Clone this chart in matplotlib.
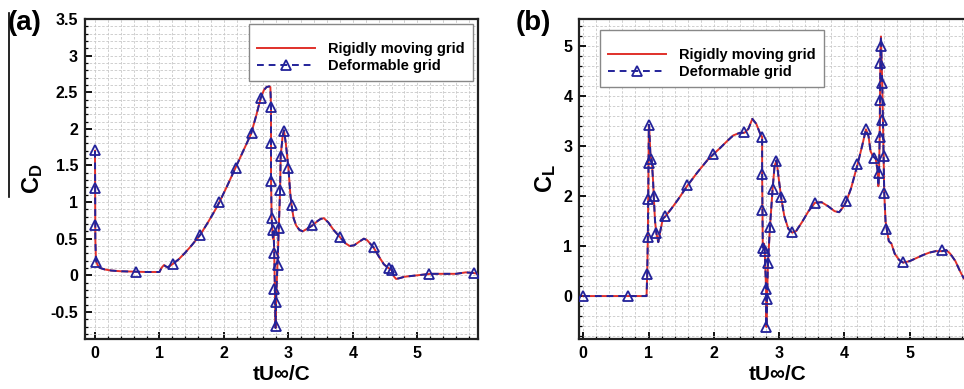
import matplotlib
matplotlib.use('Agg')
import matplotlib.pyplot as plt
from matplotlib.lines import Line2D
from matplotlib.ticker import MultipleLocator, FormatStrFormatter

plt.rcParams['font.family'] = ['Liberation Sans', 'DejaVu Sans']
plt.rcParams['font.weight'] = 'bold'
plt.rcParams['mathtext.fontset'] = 'custom'
plt.rcParams['mathtext.rm'] = 'Liberation Sans'
plt.rcParams['mathtext.bf'] = 'Liberation Sans:bold'

# ---- (a) drag coefficient ----
t_cd = [0.0, 0.005, 0.015, 0.04, 0.08, 0.15, 0.25, 0.4, 0.6, 0.8, 1.0, 1.03, 1.07, 1.1, 1.13,
        1.2, 1.3, 1.4, 1.5, 1.63, 1.75, 1.85, 1.93, 2.05, 2.18, 2.3, 2.42, 2.5, 2.57, 2.62,
        2.66, 2.7, 2.72, 2.73, 2.73, 2.74, 2.76, 2.77, 2.78, 2.79, 2.8, 2.81, 2.83, 2.85,
        2.87, 2.88, 2.91, 2.93, 2.96, 3.0, 3.03, 3.05, 3.08, 3.12, 3.17, 3.22, 3.3, 3.37,
        3.45, 3.5, 3.55, 3.62, 3.7, 3.8, 3.88, 3.95, 4.02, 4.1, 4.17, 4.22, 4.28, 4.32, 4.4,
        4.48, 4.55, 4.6, 4.64, 4.67, 4.72, 4.8, 5.0, 5.2, 5.4, 5.6, 5.75, 5.88, 5.94]
cd = [1.7, 0.5, 0.2, 0.14, 0.1, 0.08, 0.065, 0.055, 0.05, 0.045, 0.045, 0.1, 0.14, 0.12, 0.11,
      0.15, 0.22, 0.31, 0.41, 0.55, 0.72, 0.87, 1.0, 1.22, 1.47, 1.7, 1.93, 2.18, 2.42, 2.53,
      2.57, 2.58, 2.57, 2.3, 1.3, 0.78, 0.5, 0.6, 0.3, -0.2, -0.72, -0.3, 0.14, 0.64,
      1.15, 1.63, 1.9, 1.98, 1.8, 1.46, 1.1, 0.95, 0.78, 0.68, 0.62, 0.6, 0.64, 0.68,
      0.74, 0.77, 0.78, 0.72, 0.62, 0.52, 0.44, 0.4, 0.41, 0.46, 0.5, 0.48, 0.42, 0.38, 0.26,
      0.15, 0.1, 0.07, -0.02, -0.05, -0.04, -0.02, 0.0, 0.02, 0.02, 0.02, 0.04, 0.03, 0.02]
t_cd_mk = [0.0, 0.0, 0.0, 0.02, 0.64, 1.21, 1.63, 1.93, 2.18, 2.43, 2.57, 2.73, 2.73, 2.73,
           2.74, 2.76, 2.77, 2.78, 2.8, 2.8, 2.84, 2.86, 2.87, 2.88, 2.93, 3.0, 3.05, 3.36,
           3.8, 4.32, 4.56, 4.6, 5.18, 5.88]
cd_mk = [1.71, 1.19, 0.68, 0.18, 0.05, 0.15, 0.55, 1.0, 1.47, 1.94, 2.42, 2.3, 1.8, 1.29,
         0.78, 0.62, 0.31, -0.19, -0.36, -0.69, 0.14, 0.64, 1.16, 1.63, 1.97, 1.46, 0.96, 0.68,
         0.52, 0.38, 0.1, 0.07, 0.02, 0.03]

# ---- (b) lift coefficient ----
t_cl = [0.0, 0.3, 0.7, 0.97, 0.98, 0.99, 0.995, 1.0, 1.005, 1.01, 1.03, 1.05, 1.07, 1.08,
        1.1, 1.12, 1.15, 1.18, 1.22, 1.26, 1.35, 1.45, 1.6, 1.75, 1.9, 2.0, 2.1, 2.2, 2.3,
        2.4, 2.47, 2.53, 2.59, 2.65, 2.72, 2.74, 2.74, 2.745, 2.75, 2.77, 2.78, 2.8, 2.805,
        2.815, 2.83, 2.86, 2.9, 2.93, 2.96, 2.99, 3.03, 3.08, 3.14, 3.2, 3.26, 3.35, 3.45,
        3.55, 3.65, 3.75, 3.85, 3.92, 3.98, 4.03, 4.1, 4.2, 4.27, 4.33, 4.37, 4.4, 4.44, 4.48,
        4.51, 4.52, 4.53, 4.54, 4.545, 4.55, 4.555, 4.56, 4.57, 4.58, 4.59, 4.6, 4.61, 4.63,
        4.65, 4.68, 4.72, 4.77, 4.84, 4.9, 5.0, 5.1, 5.2, 5.3, 5.4, 5.5, 5.56, 5.62, 5.7,
        5.77, 5.83]
cl = [0.0, 0.0, 0.0, 0.0, 0.45, 1.2, 1.94, 2.66, 3.43, 3.4, 2.8, 2.72, 2.3, 2.0,
      1.5, 1.26, 1.08, 1.3, 1.55, 1.6, 1.75, 1.93, 2.22, 2.48, 2.72, 2.85, 2.97, 3.1, 3.22,
      3.27, 3.27, 3.35, 3.55, 3.45, 3.22, 3.19, 2.45, 1.72, 0.97, 1.05, 0.9, 0.15, -0.62,
      -0.05, 0.67, 1.39, 2.14, 2.6, 2.72, 2.4, 1.98, 1.6, 1.35, 1.27, 1.3, 1.48, 1.7,
      1.87, 1.88, 1.8, 1.7, 1.68, 1.78, 1.9, 2.15, 2.63, 3.0, 3.34, 3.2, 2.9, 2.8, 2.75,
      2.5, 2.2, 2.45, 3.18, 3.92, 4.65, 5.0, 5.2, 4.7, 4.25, 3.52, 2.8, 2.07, 1.5,
      1.33, 1.1, 1.05, 0.85, 0.72, 0.67, 0.7, 0.76, 0.82, 0.87, 0.9, 0.9, 0.92, 0.85, 0.7,
      0.5, 0.35]
t_cl_mk = [0.0, 0.69, 0.98, 0.99, 0.995, 1.0, 1.005, 1.04, 1.08, 1.11, 1.25, 1.59, 1.98,
           2.46, 2.74, 2.74, 2.745, 2.75, 2.78, 2.8, 2.815, 2.805, 2.83, 2.86, 2.9, 2.96,
           3.03, 3.2, 3.55, 4.03, 4.2, 4.33, 4.46, 4.53, 4.54, 4.545, 4.55, 4.555, 4.57,
           4.58, 4.6, 4.61, 4.64, 4.9, 5.5]
cl_mk = [0.0, 0.0, 0.44, 1.19, 1.94, 2.66, 3.43, 2.74, 2.01, 1.27, 1.61, 2.22, 2.84,
         3.28, 3.19, 2.45, 1.72, 0.97, 0.9, 0.15, -0.05, -0.62, 0.67, 1.39, 2.14, 2.7,
         1.99, 1.28, 1.87, 1.9, 2.64, 3.34, 2.76, 2.46, 3.19, 3.93, 4.66, 5.0, 4.26,
         3.53, 2.81, 2.07, 1.34, 0.675, 0.92]
x_ticks = [0, 1, 2, 3, 4, 5]

red = '#e0302a'
blue = '#22229a'

fig = plt.figure(figsize=(9.64, 3.89), dpi=100)
ax_a = fig.add_axes([85 / 964, 1 - 339 / 389, 393 / 964, 320 / 389])
ax_b = fig.add_axes([579.3 / 964, 1 - 339 / 389, 395.7 / 964, 320 / 389])


def draw(ax, t, y, tm, ym, ylab, ymaj, ymin, xlim, ylim, leg_loc, leg_anchor):
    ax.plot(t, y, color=red, lw=1.4, zorder=3)
    ax.plot(t, y, color=blue, lw=1.4, ls=(0, (3.5, 2.5)), zorder=4)
    ax.plot(tm, ym, ls='none', marker='^', ms=7.5, mfc='none', mec=blue, mew=1.3, zorder=5)
    ax.set_xlim(*xlim)
    ax.set_ylim(*ylim)
    ax.set_xticks(x_ticks)
    ax.xaxis.set_minor_locator(MultipleLocator(0.2))
    ax.yaxis.set_major_locator(MultipleLocator(ymaj))
    ax.yaxis.set_minor_locator(MultipleLocator(ymin))
    ax.yaxis.set_major_formatter(FormatStrFormatter('%g'))
    ax.grid(which='both', color='#c8c8c8', ls=(0, (3, 2)), lw=0.6)
    ax.set_axisbelow(True)
    ax.tick_params(which='major', direction='in', length=5, width=1.3, labelsize=11.5, pad=5,
                   top=False, right=False)
    ax.tick_params(which='minor', direction='in', length=2.5, width=0.9, top=False, right=False)
    for s in ax.spines.values():
        s.set_linewidth(1.6)
        s.set_color('#222222')
    ax.set_xlabel('tU∞/C', fontsize=15, fontweight='bold', labelpad=3)
    ax.set_ylabel(ylab, fontsize=17, labelpad=4)
    handles = [Line2D([], [], color=red, lw=1.4),
               Line2D([], [], color=blue, lw=1.4, ls=(0, (3.5, 2.5)), marker='^', ms=7.5,
                      mfc='none', mec=blue, mew=1.3)]
    leg = ax.legend(handles, ['Rigidly moving grid', 'Deformable grid'], loc=leg_loc,
                    bbox_to_anchor=leg_anchor, borderaxespad=0, fancybox=False,
                    edgecolor='#888888', framealpha=1, fontsize=10.5, handlelength=4.0,
                    handletextpad=0.9, borderpad=0.55, labelspacing=0.2, numpoints=1,
                    title=' ', title_fontsize=5)
    leg.set_zorder(10)
    leg.get_frame().set_linewidth(1.0)


draw(ax_a, t_cd, cd, t_cd_mk, cd_mk, r'$\mathbf{C_D}$', 0.5, 0.1,
     (-0.155, 5.94), (-0.87, 3.5), 'upper right', (0.987, 0.984))
draw(ax_b, t_cl, cl, t_cl_mk, cl_mk, r'$\mathbf{C_L}$', 1, 0.2,
     (-0.06, 6.0), (-0.86, 5.55), 'upper left', (0.052, 0.966))

fig.text(0.008, 0.975, '(a)', fontsize=20, fontweight='bold', va='top', ha='left')
fig.text(516 / 964, 0.975, '(b)', fontsize=20, fontweight='bold', va='top', ha='left')
fig.add_artist(Line2D([9 / 964, 9 / 964], [1 - 13 / 389, 1 - 197 / 389], color='black', lw=1.2))

fig.savefig('out.png', dpi=100)
